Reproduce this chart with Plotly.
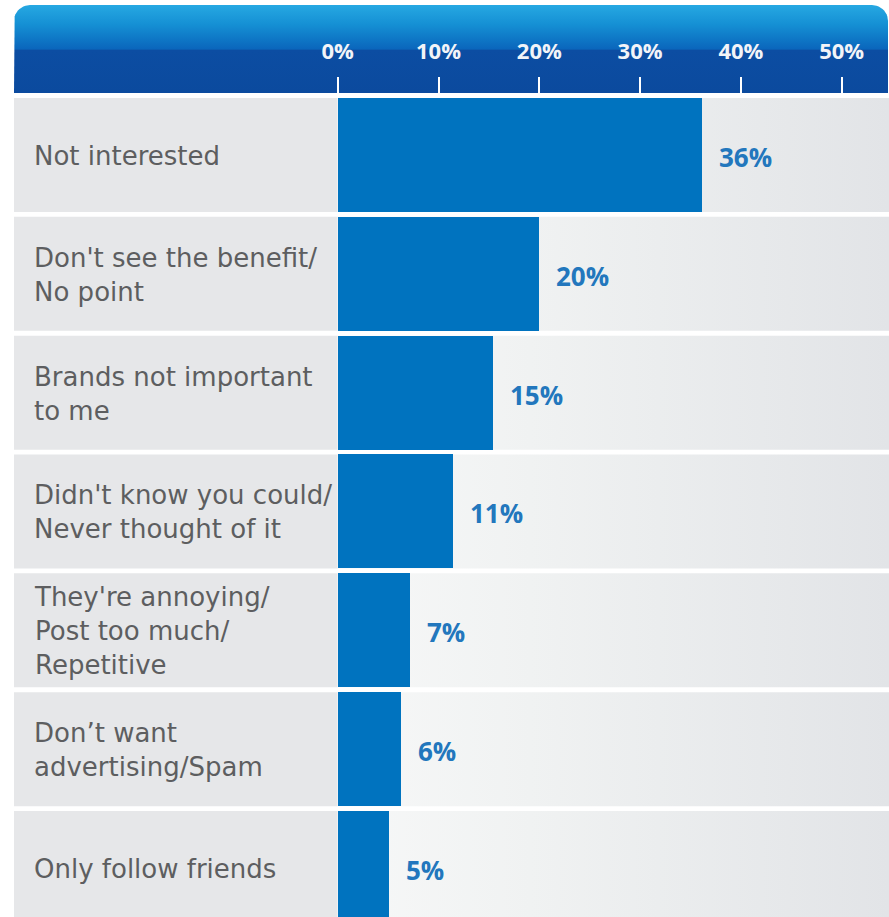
import numpy as np
import plotly.graph_objects as go

# ---- data ----
categories = [
    "Not interested",
    "Don't see the benefit/<br>No point",
    "Brands not important<br>to me",
    "Didn't know you could/<br>Never thought of it",
    "They're annoying/<br>Post too much/<br>Repetitive",
    "Don\u2019t want<br>advertising/Spam",
    "Only follow friends",
]
values = [36.1, 20.0, 15.4, 11.4, 7.2, 6.3, 5.1]
value_labels = ["36%", "20%", "15%", "11%", "7%", "6%", "5%"]
tick_vals = [0, 10, 20, 30, 40, 50]
tick_text = ["0%", "10%", "20%", "30%", "40%", "50%"]

# ---- layout geometry (pixels -> data) ----
W, H = 889, 917
X0PX, XS = 337.7, 10.08          # px of 0%, px per 1%
Y0PX, YS = 155.0, 118.83         # px of first row centre, px per row


def dx(px):
    return (px - X0PX) / XS


def dy(py):
    return (py - Y0PX) / YS


n = len(categories)
rows = list(range(n))
BAR_W = 114 / YS

fig = go.Figure()

# header with rounded top corners (vertical gradient) -- background subplot
r = 16
hx, hy = [14], [93]
for a in np.linspace(np.pi, 1.5 * np.pi, 12):
    hx.append(14 + r + r * np.cos(a)); hy.append(5 + r + r * np.sin(a))
for a in np.linspace(1.5 * np.pi, 2 * np.pi, 12):
    hx.append(888 - r + r * np.cos(a)); hy.append(5 + r + r * np.sin(a))
hx += [888, 14]; hy += [93, 93]
fig.add_trace(go.Scatter(
    x=[dx(v) for v in hx], y=[dy(v) for v in hy], mode="lines",
    line=dict(width=0), fill="toself", hoverinfo="skip", showlegend=False,
    xaxis="x", yaxis="y",
    fillgradient=dict(type="vertical", start=dy(5), stop=dy(93),
                      colorscale=[[0, "#26A8E2"], [0.22, "#1590D4"], [0.5, "#0A66BC"],
                                  [0.515, "#0C4DA2"], [1, "#0B4A9E"]]),
))

# plot-area row backgrounds (horizontal gradient)
gx, gy = [], []
for i in rows:
    y0, y1 = i - BAR_W / 2, i + BAR_W / 2
    gx += [dx(337.7), dx(889), dx(889), dx(337.7), dx(337.7), None]
    gy += [y0, y0, y1, y1, y0, None]
fig.add_trace(go.Scatter(
    x=gx, y=gy, mode="lines", line=dict(width=0), fill="toself",
    hoverinfo="skip", showlegend=False, xaxis="x", yaxis="y",
    fillgradient=dict(type="horizontal", start=dx(337.7), stop=dx(889),
                      colorscale=[[0, "#F7F8F8"], [0.35, "#F0F2F2"], [1, "#E2E4E7"]]),
))

# bars -- foreground subplot
fig.add_trace(go.Bar(
    x=values, y=rows, orientation="h", width=BAR_W,
    marker=dict(color="#0073BF", line=dict(width=0)),
    hoverinfo="skip", showlegend=False, xaxis="x2", yaxis="y2",
))

# label-area grey rows
shapes = []
for i in rows:
    shapes.append(dict(type="rect", xref="x", yref="y", layer="below",
                       x0=dx(14), x1=dx(337.7), y0=i - BAR_W / 2, y1=i + BAR_W / 2,
                       fillcolor="#E6E7E9", line=dict(width=0)))

annotations = []
for i, (c, v, t) in enumerate(zip(categories, values, value_labels)):
    annotations.append(dict(
        x=dx(32), y=i, xref="x2", yref="y2", text=c, showarrow=False,
        xanchor="left", yanchor="middle", align="left", yshift=-1,
        font=dict(family="DejaVu Sans", size=26, color="#5D5E60")))
    annotations.append(dict(
        x=v, y=i, xref="x2", yref="y2", text=t, showarrow=False,
        xanchor="left", yanchor="middle", xshift=15, yshift=-2,
        font=dict(family="Open Sans", size=26, color="#2277BD", weight=700)))

common_y = dict(range=[dy(H), dy(0)], showticklabels=False, ticks="",
                showgrid=False, zeroline=False, showline=False, fixedrange=True)

fig.update_layout(
    width=W, height=H, margin=dict(l=0, r=0, t=0, b=0),
    paper_bgcolor="white", plot_bgcolor="rgba(0,0,0,0)",
    shapes=shapes, annotations=annotations, bargap=0,
    xaxis=dict(range=[dx(0), dx(W)], domain=[0, 1], visible=False, fixedrange=True),
    yaxis=dict(domain=[0, 1], **common_y),
    xaxis2=dict(range=[dx(0), dx(W)], domain=[0, 1], side="top", anchor="free",
                position=1 - 93 / H,
                tickmode="array", tickvals=tick_vals, ticktext=tick_text,
                ticks="outside", ticklen=16, tickwidth=1.5, tickcolor="white",
                ticklabelstandoff=9,
                tickfont=dict(family="Open Sans", size=22, color="#F2F4F8", weight=700),
                showgrid=False, zeroline=False, showline=False, fixedrange=True),
    yaxis2=dict(domain=[0, 1], anchor="x2", **common_y),
)

fig.write_html("out.html")
